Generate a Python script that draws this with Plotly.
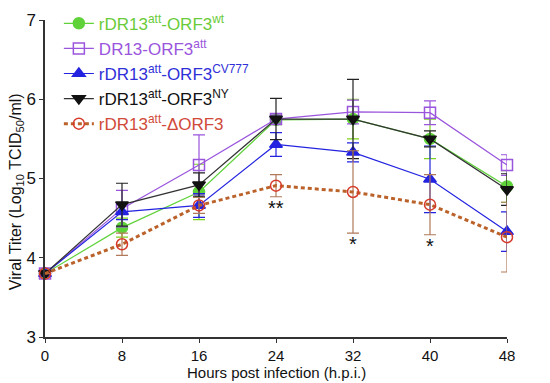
import plotly.graph_objects as go

hours = [0, 8, 16, 24, 32, 40, 48]
tick_labels = ["0", "8", "16", "24", "32", "40", "48"]

wt = [3.8, 4.38, 4.83, 5.74, 5.75, 5.50, 4.90]
wt_err = [0.0, 0.12, 0.35, 0.06, 0.25, 0.25, 0.20]
att = [3.8, 4.62, 5.17, 5.75, 5.84, 5.83, 5.17]
att_err = [0.0, 0.23, 0.38, 0.05, 0.15, 0.15, 0.13]
cv777 = [3.8, 4.58, 4.66, 5.43, 5.33, 4.99, 4.33]
cv777_err = [0.0, 0.10, 0.15, 0.15, 0.12, 0.42, 0.25]
ny = [3.8, 4.67, 4.92, 5.75, 5.75, 5.50, 4.86]
ny_err = [0.0, 0.27, 0.15, 0.26, 0.50, 0.10, 0.20]
dorf3 = [3.8, 4.17, 4.66, 4.91, 4.83, 4.67, 4.26]
dorf3_err = [0.0, 0.14, 0.10, 0.14, 0.52, 0.38, 0.44]

sig_x = [24, 32, 40]
sig_y = [4.63, 4.17, 4.15]
sig_text = ["**", "*", "*"]

series = [
    ("rDR13<sup>att</sup>-ORF3<sup>wt</sup>", wt, wt_err, "#5fd23a", "circle", "#5fd23a", "solid", 1.2, "#7ed321", "#6acb3a"),
    ("DR13-ORF3<sup>att</sup>", att, att_err, "#9a55dd", "square-open", "#9a55dd", "solid", 1.2, "#9a55dd", "#9a55dd"),
    ("rDR13<sup>att</sup>-ORF3<sup>CV777</sup>", cv777, cv777_err, "#2323e0", "triangle-up", "#2323e0", "solid", 1.2, "#2323e0", "#3030d8"),
    ("rDR13<sup>att</sup>-ORF3<sup>NY</sup>", ny, ny_err, "#111111", "triangle-down", "#333333", "solid", 1.2, "#222222", "#111111"),
    ("rDR13<sup>att</sup>-ΔORF3", dorf3, dorf3_err, "#d63a2a", "circle-open", "#bb622a", "4px,3px", 3, "#b07a5a", "#d04a3a"),
]

fig = go.Figure()
for name, vals, err, mcol, sym, lcol, dash, lw, ecol, tcol in series:
    fig.add_trace(go.Scatter(
        x=hours, y=vals,
        mode="lines+markers",
        name=f"<span style='color:{tcol}'>{name}</span>",
        line=dict(color=lcol, width=lw, dash=dash),
        marker=dict(symbol=sym, size=11, color=mcol, line=dict(color=mcol, width=1.5)),
        error_y=dict(type="data", array=err, visible=True, color=ecol, thickness=1.2, width=6),
        cliponaxis=False,
    ))

for x, y, t in zip(sig_x, sig_y, sig_text):
    fig.add_annotation(x=x, y=y, text=t, showarrow=False,
                       font=dict(size=20, color="#111111"))

# axis titles as annotations for precise placement
fig.add_annotation(xref="paper", yref="paper", x=0, y=0.457, xanchor="center", yanchor="middle",
                   xshift=-29, textangle=-90, showarrow=False,
                   text="Viral Titer (Log<sub>10</sub> TCID<sub>50</sub>/ml)",
                   font=dict(size=16, color="#111111"))
fig.add_annotation(xref="paper", yref="paper", x=0.5, y=0, xanchor="center", yanchor="middle",
                   yshift=-35, showarrow=False,
                   text="Hours post infection (h.p.i.)",
                   font=dict(size=15, color="#111111"))

fig.update_layout(
    width=550, height=383,
    margin=dict(l=45, r=43, t=20, b=46, autoexpand=False),
    paper_bgcolor="white", plot_bgcolor="white",
    font=dict(family="Liberation Sans, Arial, sans-serif", color="#111111"),
    showlegend=True,
    legend=dict(x=0.03, y=1.045, xanchor="left", yanchor="top",
                bgcolor="rgba(0,0,0,0)", font=dict(size=17),
                itemwidth=30),
    xaxis=dict(range=[0, 48], tickvals=hours, ticktext=tick_labels,
               showgrid=False, zeroline=False, showline=True, linecolor="#333333",
               linewidth=1.5, ticks="outside", ticklen=4, tickcolor="#333333",
               tickfont=dict(size=15), automargin=False),
    yaxis=dict(range=[3, 7], tickvals=[3, 4, 5, 6, 7],
               showgrid=False, zeroline=False, showline=True, linecolor="#333333",
               linewidth=1.5, ticks="outside", ticklen=4, tickcolor="#333333",
               tickfont=dict(size=17), automargin=False),
)

fig.write_html("out.html", config={"displayModeBar": False},
               post_script="document.body.style.margin='0px';")
